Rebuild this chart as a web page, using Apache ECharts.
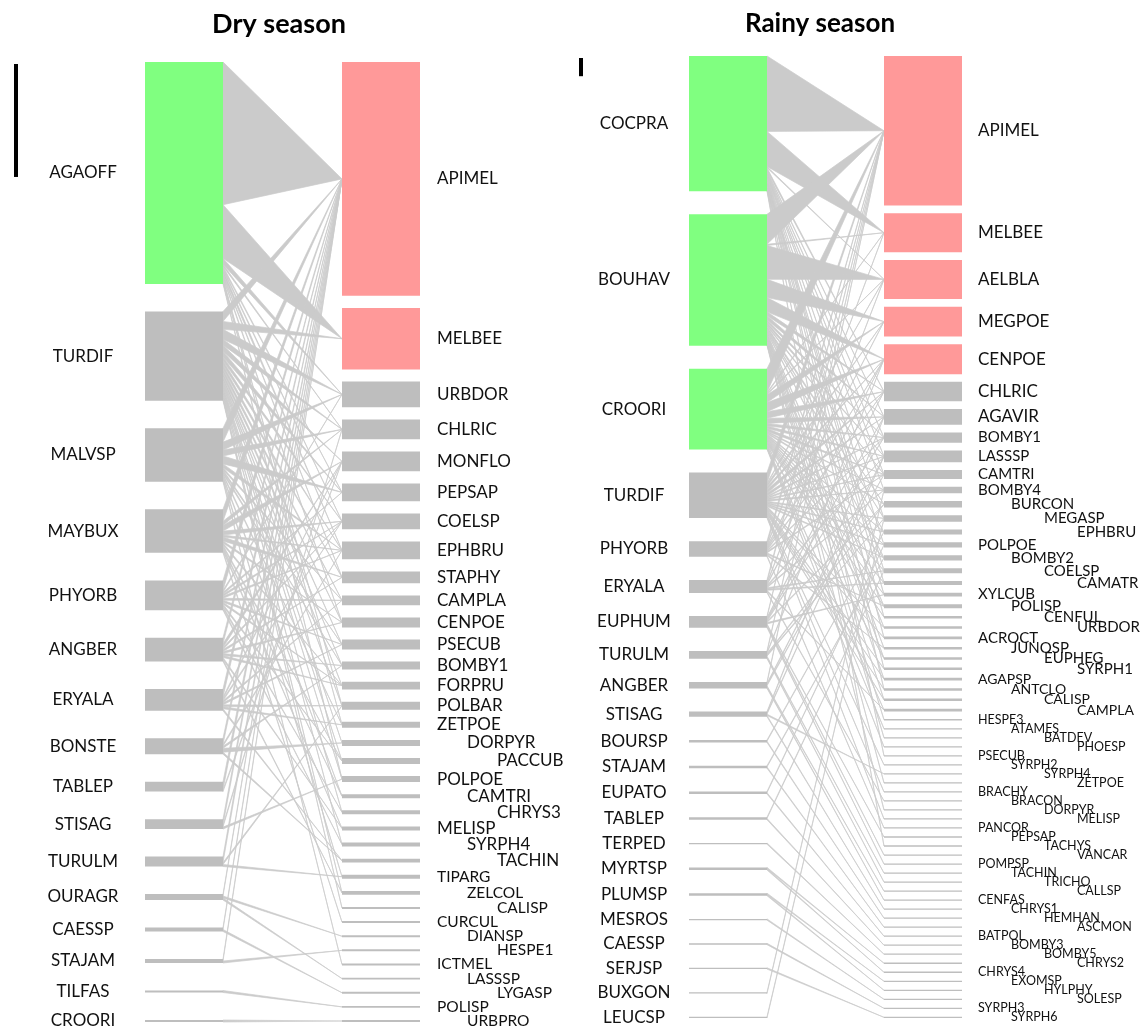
<!DOCTYPE html>
<html>
<head>
<meta charset="utf-8">
<script src="https://cdn.jsdelivr.net/npm/echarts@6/dist/echarts.min.js"></script>
<style>
  html, body { margin: 0; padding: 0; background: #fff; }
  #main { width: 1144px; height: 1030px; }
</style>
</head>
<body>
<div id="main"></div>
<script>
// ---------- Dry season network ----------
const dryPlants = ['AGAOFF','TURDIF','MALVSP','MAYBUX','PHYORB','ANGBER','ERYALA','BONSTE',
  'TABLEP','STISAG','TURULM','OURAGR','CAESSP','STAJAM','TILFAS','CROORI'];
const dryPollinators = ['APIMEL','MELBEE','URBDOR','CHLRIC','MONFLO','PEPSAP','COELSP','EPHBRU',
  'STAPHY','CAMPLA','CENPOE','PSECUB','BOMBY1','FORPRU','POLBAR','ZETPOE','DORPYR','PACCUB',
  'POLPOE','CAMTRI','CHRYS3','MELISP','SYRPH4','TACHIN','TIPARG','ZELCOL','CALISP','CURCUL',
  'DIANSP','HESPE1','ICTMEL','LASSSP','LYGASP','POLISP','URBPRO'];
const dryKeyPlants = ['AGAOFF'];
const dryKeyPollinators = ['APIMEL','MELBEE'];
// [plant, pollinator, number of visits]
const dryLinks = [
  ['AGAOFF','APIMEL',72],['AGAOFF','MELBEE',27],['AGAOFF','URBDOR',3],['AGAOFF','CHLRIC',1],
  ['AGAOFF','PEPSAP',1],['AGAOFF','COELSP',1],['AGAOFF','EPHBRU',2],['AGAOFF','STAPHY',1],
  ['AGAOFF','CENPOE',1],['AGAOFF','POLBAR',1],['AGAOFF','ZETPOE',1],['AGAOFF','POLPOE',1],
  ['TURDIF','APIMEL',5],['TURDIF','MELBEE',4],['TURDIF','URBDOR',5],['TURDIF','CHLRIC',3],
  ['TURDIF','MONFLO',3],['TURDIF','PEPSAP',3],['TURDIF','COELSP',2],['TURDIF','EPHBRU',2],
  ['TURDIF','STAPHY',2],['TURDIF','CAMPLA',2],['TURDIF','CENPOE',2],['TURDIF','PSECUB',2],
  ['TURDIF','BOMBY1',1],['TURDIF','FORPRU',1],['TURDIF','POLBAR',1],['TURDIF','DORPYR',1],
  ['TURDIF','PACCUB',1],['TURDIF','POLPOE',1],['TURDIF','CHRYS3',1],['TURDIF','SYRPH4',1],
  ['TURDIF','ZELCOL',1],['TURDIF','CALISP',1],
  ['MALVSP','APIMEL',7],['MALVSP','URBDOR',4],['MALVSP','CHLRIC',3],['MALVSP','PEPSAP',4],
  ['MALVSP','EPHBRU',2],['MALVSP','CAMPLA',1],['MALVSP','PSECUB',1],['MALVSP','BOMBY1',1],
  ['MALVSP','ZETPOE',1],['MALVSP','CAMTRI',1],['MALVSP','TIPARG',1],['MALVSP','ICTMEL',1],
  ['MAYBUX','APIMEL',6],['MAYBUX','CHLRIC',2],['MAYBUX','MONFLO',3],['MAYBUX','COELSP',2],
  ['MAYBUX','EPHBRU',1],['MAYBUX','STAPHY',2],['MAYBUX','CENPOE',1],['MAYBUX','FORPRU',1],
  ['MAYBUX','PACCUB',1],['MAYBUX','CAMTRI',1],['MAYBUX','MELISP',1],['MAYBUX','CURCUL',1],
  ['PHYORB','APIMEL',5],['PHYORB','URBDOR',1],['PHYORB','PEPSAP',1],['PHYORB','COELSP',1],
  ['PHYORB','EPHBRU',1],['PHYORB','CAMPLA',1],['PHYORB','PSECUB',1],['PHYORB','FORPRU',1],
  ['PHYORB','PACCUB',1],['PHYORB','CHRYS3',1],['PHYORB','SYRPH4',1],
  ['ANGBER','APIMEL',3],['ANGBER','MONFLO',2],['ANGBER','COELSP',1],['ANGBER','STAPHY',1],
  ['ANGBER','CENPOE',1],['ANGBER','BOMBY1',1],['ANGBER','FORPRU',1],['ANGBER','MELISP',1],
  ['ANGBER','ZELCOL',1],
  ['ERYALA','APIMEL',4],['ERYALA','MONFLO',1],['ERYALA','COELSP',1],['ERYALA','CAMPLA',1],
  ['ERYALA','PSECUB',1],['ERYALA','POLBAR',1],['ERYALA','ZETPOE',1],['ERYALA','TACHIN',1],
  ['BONSTE','APIMEL',3],['BONSTE','EPHBRU',1],['BONSTE','BOMBY1',1],['BONSTE','DORPYR',2],
  ['BONSTE','TACHIN',1],
  ['TABLEP','APIMEL',4],['TABLEP','MONFLO',1],
  ['STISAG','APIMEL',3],['STISAG','CHLRIC',1],['STISAG','POLPOE',1],
  ['TURULM','APIMEL',3],['TURULM','POLBAR',1],['TURULM','TIPARG',1],
  ['OURAGR','APIMEL',1],['OURAGR','DIANSP',1],['OURAGR','LASSSP',1],
  ['CAESSP','APIMEL',1],['CAESSP','LYGASP',1],
  ['STAJAM','APIMEL',1],['STAJAM','HESPE1',1],
  ['TILFAS','POLISP',1],
  ['CROORI','URBPRO',1]
];
const dryScaleBar = 57;

// ---------- Rainy season network ----------
const rainyPlants = ['COCPRA','BOUHAV','CROORI','TURDIF','PHYORB','ERYALA','EUPHUM','TURULM',
  'ANGBER','STISAG','BOURSP','STAJAM','EUPATO','TABLEP','TERPED','MYRTSP','PLUMSP','MESROS',
  'CAESSP','SERJSP','BUXGON','LEUCSP'];
const rainyPollinators = ['APIMEL','MELBEE','AELBLA','MEGPOE','CENPOE','CHLRIC','AGAVIR','BOMBY1',
  'LASSSP','CAMTRI','BOMBY4','BURCON','MEGASP','EPHBRU','POLPOE','BOMBY2','COELSP','CAMATR',
  'XYLCUB','POLISP','CENFUL','URBDOR','ACROCT','JUNOSP','EUPHEG','SYRPH1','AGAPSP','ANTCLO',
  'CALISP','CAMPLA','HESPE3','ATAMES','BATDEV','PHOESP','PSECUB','SYRPH2','SYRPH4','ZETPOE',
  'BRACHY','BRACON','DORPYR','MELISP','PANCOR','PEPSAP','TACHYS','VANCAR','POMPSP','TACHIN',
  'TRICHO','CALLSP','CENFAS','CHRYS1','HEMHAN','ASCMON','BATPOL','BOMBY3','BOMBY5','CHRYS2',
  'CHRYS4','EXOMSP','HYLPHY','SOLESP','SYRPH3','SYRPH6'];
const rainyKeyPlants = ['COCPRA','BOUHAV','CROORI'];
const rainyKeyPollinators = ['APIMEL','MELBEE','AELBLA','MEGPOE','CENPOE'];
const rainyLinks = [
  ['COCPRA','APIMEL',58],['COCPRA','MELBEE',27],['COCPRA','AELBLA',1],['COCPRA','CHLRIC',2],
  ['COCPRA','AGAVIR',1],['COCPRA','BOMBY1',1],['COCPRA','LASSSP',1],['COCPRA','CAMTRI',1],
  ['COCPRA','BOMBY4',1],['COCPRA','MEGASP',1],['COCPRA','POLPOE',1],['COCPRA','COELSP',1],
  ['COCPRA','CAMATR',1],['COCPRA','XYLCUB',1],['COCPRA','CENFUL',1],['COCPRA','ACROCT',1],
  ['COCPRA','SYRPH1',1],['COCPRA','ANTCLO',1],['COCPRA','PSECUB',1],['COCPRA','TACHYS',1],
  ['BOUHAV','APIMEL',23],['BOUHAV','MELBEE',1],['BOUHAV','AELBLA',26],['BOUHAV','MEGPOE',14],
  ['BOUHAV','CENPOE',11],['BOUHAV','CHLRIC',3],['BOUHAV','AGAVIR',3],['BOUHAV','BOMBY1',2],
  ['BOUHAV','LASSSP',2],['BOUHAV','CAMTRI',1],['BOUHAV','BURCON',2],['BOUHAV','MEGASP',1],
  ['BOUHAV','EPHBRU',1],['BOUHAV','BOMBY2',1],['BOUHAV','POLISP',1],['BOUHAV','URBDOR',1],
  ['BOUHAV','JUNOSP',1],['BOUHAV','EUPHEG',1],['BOUHAV','AGAPSP',1],['BOUHAV','CALISP',1],
  ['BOUHAV','HESPE3',1],['BOUHAV','BATDEV',1],['BOUHAV','ZETPOE',1],['BOUHAV','DORPYR',1],
  ['CROORI','APIMEL',18],['CROORI','MELBEE',1],['CROORI','AELBLA',1],['CROORI','MEGPOE',6],
  ['CROORI','CENPOE',7],['CROORI','CHLRIC',5],['CROORI','AGAVIR',4],['CROORI','BOMBY1',2],
  ['CROORI','LASSSP',2],['CROORI','CAMTRI',2],['CROORI','BOMBY4',1],['CROORI','BURCON',1],
  ['CROORI','EPHBRU',1],['CROORI','POLPOE',1],['CROORI','BOMBY2',1],['CROORI','COELSP',1],
  ['CROORI','CAMATR',1],['CROORI','XYLCUB',1],['CROORI','POLISP',1],['CROORI','CENFUL',1],
  ['CROORI','EUPHEG',1],['CROORI','CAMPLA',1],['CROORI','ATAMES',1],['CROORI','PHOESP',1],
  ['TURDIF','APIMEL',8],['TURDIF','AELBLA',1],['TURDIF','MEGPOE',2],['TURDIF','CENPOE',2],
  ['TURDIF','CHLRIC',3],['TURDIF','AGAVIR',2],['TURDIF','BOMBY1',1],['TURDIF','LASSSP',1],
  ['TURDIF','CAMTRI',1],['TURDIF','BOMBY4',1],['TURDIF','MEGASP',1],['TURDIF','EPHBRU',1],
  ['TURDIF','POLPOE',1],['TURDIF','BOMBY2',1],['TURDIF','ACROCT',1],['TURDIF','URBDOR',1],
  ['TURDIF','SYRPH1',1],['TURDIF','AGAPSP',1],['TURDIF','ANTCLO',1],['TURDIF','CALISP',1],
  ['TURDIF','SYRPH2',1],['TURDIF','BRACHY',1],['TURDIF','MELISP',1],
  ['PHYORB','APIMEL',3],['PHYORB','MELBEE',1],['PHYORB','MEGPOE',1],['PHYORB','CENPOE',1],
  ['PHYORB','CHLRIC',1],['PHYORB','BOMBY1',1],['PHYORB','CAMTRI',1],['PHYORB','POLISP',1],
  ['PHYORB','JUNOSP',1],['PHYORB','PANCOR',1],
  ['ERYALA','APIMEL',2],['ERYALA','AELBLA',1],['ERYALA','CENPOE',1],['ERYALA','LASSSP',1],
  ['ERYALA','BOMBY4',1],['ERYALA','COELSP',1],['ERYALA','CAMATR',1],['ERYALA','CAMPLA',1],
  ['ERYALA','BRACON',1],
  ['EUPHUM','APIMEL',1],['EUPHUM','CHLRIC',1],['EUPHUM','AGAVIR',1],['EUPHUM','BOMBY1',1],
  ['EUPHUM','BURCON',1],['EUPHUM','XYLCUB',1],['EUPHUM','PEPSAP',1],['EUPHUM','VANCAR',1],
  ['EUPHUM','POMPSP',1],
  ['TURULM','APIMEL',1],['TURULM','CENPOE',1],['TURULM','BURCON',1],['TURULM','MEGASP',1],
  ['TURULM','TACHIN',1],['TURULM','TRICHO',1],
  ['ANGBER','APIMEL',1],['ANGBER','LASSSP',1],['ANGBER','CAMTRI',1],['ANGBER','CALLSP',1],
  ['ANGBER','CENFAS',1],
  ['STISAG','AGAVIR',1],['STISAG','LASSSP',1],['STISAG','SYRPH4',1],['STISAG','CHRYS1',1],
  ['BOURSP','EPHBRU',1],['BOURSP','HEMHAN',1],
  ['STAJAM','BOMBY2',1],['STAJAM','ASCMON',1],
  ['EUPATO','POLPOE',1],['EUPATO','BATPOL',1],
  ['TABLEP','COELSP',1],['TABLEP','BOMBY3',1],
  ['TERPED','BOMBY5',1],
  ['MYRTSP','CHRYS2',1],['MYRTSP','CHRYS4',1],
  ['PLUMSP','EXOMSP',1],['PLUMSP','HYLPHY',1],
  ['MESROS','SOLESP',1],
  ['CAESSP','SYRPH3',1],
  ['SERJSP','SYRPH6',1],
  ['BUXGON','BOMBY4',1],
  ['LEUCSP','MEGASP',1]
];
const rainyScaleBar = 14;

// ---------- drawing ----------
const FONT = 'Lato, "Open Sans", sans-serif';
const PLANT_KEY = '#80ff80';
const POLL_KEY = '#ff9999';
const BOX_GREY = '#bebebe';
const LINK_GREY = '#cbcbcb';

// Stack the boxes of both levels and cut each plant box into link bands
function layoutWeb(plants, pollinators, links, spanFactor) {
  const plantTot = plants.map(() => 0);
  const pollTot = pollinators.map(() => 0);
  const rows = links.map(([p, q, n]) => [plants.indexOf(p), pollinators.indexOf(q), n]);
  rows.forEach(([pi, qi, n]) => { plantTot[pi] += n; pollTot[qi] += n; });
  const total = plantTot.reduce((a, b) => a + b, 0);
  const span = total * spanFactor;
  const stack = tots => {
    const gap = (span - total) / (tots.length - 1);
    let y = 0;
    return tots.map(t => { const s = y; y += t + gap; return [s, s + t]; });
  };
  const plantBox = stack(plantTot);
  const pollBox = stack(pollTot);
  const cursor = plantBox.map(b => b[0]);
  rows.sort((a, b) => a[0] - b[0] || a[1] - b[1]);
  const bands = rows.map(([pi, qi, n]) => {
    const y0 = cursor[pi];
    cursor[pi] += n;
    return [0, y0, y0 + n, (pollBox[qi][0] + pollBox[qi][1]) / 2];
  });
  return { span, plantBox, pollBox, bands };
}

const panels = [
  {
    title: 'Dry season', plants: dryPlants, pollinators: dryPollinators, links: dryLinks,
    keyPlants: dryKeyPlants, keyPollinators: dryKeyPollinators, scaleBar: dryScaleBar,
    grid: { left: 145, top: 62, width: 275, bottom: 8 }, boxFrac: 78 / 275, spanFactor: 1.755,
    plantLabelGap: 62, labelPad: 17, staggerFrom: 15, cols: 3, colStep: 30, barOffset: 129,
    titleX: 279, titleSize: 27, plantFont: 17, pollFont: i => (i < 24 ? 17 : 15.5)
  },
  {
    title: 'Rainy season', plants: rainyPlants, pollinators: rainyPollinators, links: rainyLinks,
    keyPlants: rainyKeyPlants, keyPollinators: rainyKeyPollinators, scaleBar: rainyScaleBar,
    grid: { left: 689, top: 56, width: 273, bottom: 12 }, boxFrac: 78 / 273, spanFactor: 2.022,
    plantLabelGap: 55, labelPad: 16, staggerFrom: 10, cols: 4, colStep: 33, barOffset: 108,
    titleX: 820, titleSize: 26, plantFont: 17,
    pollFont: i => (i < 7 ? 17 : i < 26 ? 15 : i < 30 ? 14 : 12.5)
  }
];

const grids = [], xAxes = [], yAxes = [], series = [], graphics = [];

panels.forEach((p, k) => {
  const L = layoutWeb(p.plants, p.pollinators, p.links, p.spanFactor);
  grids.push(p.grid);
  xAxes.push({ gridIndex: k, type: 'value', min: 0, max: 1, show: false });
  yAxes.push({ gridIndex: k, type: 'value', min: 0, max: L.span, inverse: true, show: false });

  // interaction wedges: wide at the plant, pointed at the pollinator centre
  series.push({
    type: 'custom', xAxisIndex: k, yAxisIndex: k, silent: true, z: 1,
    data: L.bands,
    renderItem: (params, api) => {
      const a = api.coord([p.boxFrac, api.value(1)]);
      const b = api.coord([p.boxFrac, api.value(2)]);
      const c = api.coord([1 - p.boxFrac, api.value(3)]);
      return {
        type: 'polygon', shape: { points: [a, b, c] },
        style: { fill: LINK_GREY, stroke: LINK_GREY, lineWidth: 0.7 }
      };
    }
  });

  // boxes and species names
  const boxData = [];
  L.plantBox.forEach((b, i) => boxData.push([0, b[0], b[1], i]));
  L.pollBox.forEach((b, i) => boxData.push([1, b[0], b[1], i]));
  series.push({
    type: 'custom', xAxisIndex: k, yAxisIndex: k, silent: true, z: 2,
    data: boxData,
    renderItem: (params, api) => {
      const side = api.value(0), idx = api.value(3);
      const a = api.coord([side === 0 ? 0 : 1 - p.boxFrac, api.value(1)]);
      const b = api.coord([side === 0 ? p.boxFrac : 1, api.value(2)]);
      const name = side === 0 ? p.plants[idx] : p.pollinators[idx];
      const key = side === 0 ? p.keyPlants.includes(name) : p.keyPollinators.includes(name);
      const fill = key ? (side === 0 ? PLANT_KEY : POLL_KEY) : BOX_GREY;
      const cy = (a[1] + b[1]) / 2;
      let tx, align, fs;
      if (side === 0) {
        tx = a[0] - p.plantLabelGap; align = 'center'; fs = p.plantFont;
      } else {
        const col = idx >= p.staggerFrom ? (idx - p.staggerFrom) % p.cols : 0;
        tx = b[0] + p.labelPad + col * p.colStep; align = 'left'; fs = p.pollFont(idx);
      }
      return {
        type: 'group',
        children: [
          { type: 'rect', shape: { x: a[0], y: a[1], width: b[0] - a[0], height: Math.max(b[1] - a[1], 1.2) },
            style: { fill } },
          { type: 'text', x: tx, y: cy,
            style: { text: name, fill: '#111', font: fs + 'px ' + FONT, fontSize: fs, fontFamily: FONT,
                     align, verticalAlign: 'middle', textAlign: align, textVerticalAlign: 'middle' } }
        ]
      };
    }
  });

  // scale bar
  series.push({
    type: 'custom', xAxisIndex: k, yAxisIndex: k, silent: true, z: 3,
    data: [[0, 0, p.scaleBar]],
    renderItem: (params, api) => {
      const a = api.coord([0, api.value(1)]);
      const b = api.coord([0, api.value(2)]);
      return { type: 'rect', shape: { x: a[0] - p.barOffset - 2, y: a[1] + 2, width: 4, height: b[1] - a[1] },
               style: { fill: '#000' } };
    }
  });

  graphics.push({
    type: 'text', x: p.titleX, y: 24,
    style: { text: p.title, fill: '#000', font: 'bold ' + p.titleSize + 'px ' + FONT, align: 'center',
             verticalAlign: 'middle', textAlign: 'center', textVerticalAlign: 'middle' }
  });
});

const chart = echarts.init(document.getElementById('main'), null, { renderer: 'canvas' });
chart.setOption({
  animation: false,
  backgroundColor: '#ffffff',
  grid: grids,
  xAxis: xAxes,
  yAxis: yAxes,
  series,
  graphic: graphics
});
</script>
</body>
</html>
